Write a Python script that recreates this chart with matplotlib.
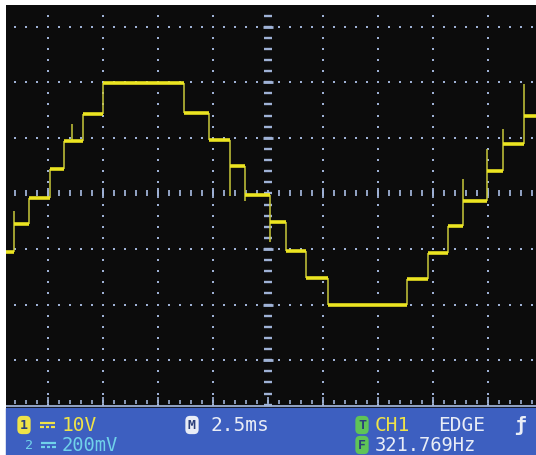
import matplotlib
matplotlib.use("Agg")
import matplotlib.pyplot as plt
import numpy as np
from matplotlib.patches import Rectangle
from matplotlib.lines import Line2D

# ---------------- data (read from the scope screen) ----------------
# time in ms (2.5 ms/div), voltage in V (10 V/div)
step_edges_ms = [-11.91, -11.55, -10.86, -9.91, -9.27, -8.41, -7.50, -3.82,
                 -2.68, -1.73, -1.05, 0.09, 0.82, 1.73, 2.73, 6.32, 7.27,
                 8.18, 8.86, 9.95, 10.68, 11.64, 12.18]
step_levels_v = [-10.5, -5.5, -0.8, 4.4, 9.4, 14.3, 19.9, 14.5, 9.6, 4.9,
                 -0.3, -5.1, -10.3, -15.2, -20.1, -15.4, -10.7, -5.8, -1.3,
                 4.0, 8.9, 13.9]
spike_times_ms = [-11.55, -8.91, -1.73, -1.05, 0.09, 8.86, 9.95, 10.68, 11.64]
spike_peak_v = [-3.1, 12.5, -0.45, -1.3, -8.7, 2.6, 8.0, 11.6, 19.7]

ms_per_div = 2.5
v_per_div = 10.0

status_line1 = ["10V", "2.5ms", "CH1", "EDGE"]
status_line2 = ["200mV", "321.769Hz"]

# ---------------- figure ----------------
W, H = 536, 456
fig = plt.figure(figsize=(W / 100, H / 100), dpi=100, facecolor="white")

screen_bg = "#0c0c0c"
grid_col = "#9fb2d6"
trace_col = "#ece521"
edge_col = "#c9c83a"
bar_col = "#3d5fc0"

ax = fig.add_axes([6 / W, 1 - 409 / H, 530 / W, 403 / H])
ax.set_facecolor(screen_bg)
xmin, xmax = -11.91, 12.18
ymin, ymax = -38.6, 33.9
ax.set_xlim(xmin, xmax)
ax.set_ylim(ymin, ymax)
for s in ax.spines.values():
    s.set_visible(False)
ax.set_xticks([])
ax.set_yticks([])

# ---- graticule ----
major_t = [k * ms_per_div for k in range(-4, 5) if k != 0]
major_v = [k * v_per_div for k in range(-3, 4) if k != 0]
fine_t = np.arange(-11.5, 12.01, ms_per_div / 5)
fine_v = np.arange(-38.0, 33.9, v_per_div / 5)

# dots along vertical grid lines
tt, vv = np.meshgrid(major_t, fine_v)
ax.scatter(tt.ravel(), vv.ravel(), s=3.2, marker="s", color=grid_col,
           linewidths=0, zorder=2)
# dots along horizontal grid lines
tt, vv = np.meshgrid(fine_t, major_v)
ax.scatter(tt.ravel(), vv.ravel(), s=3.2, marker="s", color=grid_col,
           linewidths=0, zorder=2)
# centre horizontal axis: short vertical dashes
ax.scatter(fine_t, np.zeros_like(fine_t), s=20, marker="|", color=grid_col,
           linewidths=1.3, zorder=2)
ax.scatter(major_t, np.zeros(len(major_t)), s=45, marker="|", color=grid_col,
           linewidths=1.3, zorder=2)
# centre vertical axis: short horizontal dashes
ax.scatter(np.zeros_like(fine_v), fine_v, s=26, marker="_", color=grid_col,
           linewidths=1.7, zorder=2)
ax.scatter(np.zeros(len(major_v)), major_v, s=60, marker="_", color=grid_col,
           linewidths=2.0, zorder=2)
# bottom border with ticks
ax.axhline(ymin + 0.35, color=grid_col, lw=1.3, zorder=2)
ax.scatter(fine_t, np.full_like(fine_t, ymin + 1.0), s=10, marker="|",
           color=grid_col, linewidths=1.2, zorder=2)
ax.scatter(major_t + [0.0], np.full(len(major_t) + 1, ymin + 1.4), s=22,
           marker="|", color=grid_col, linewidths=1.2, zorder=2)

# ---- trace ----
edges = np.array(step_edges_ms)
levels = np.array(step_levels_v)
ax.hlines(levels, edges[:-1], edges[1:], color=trace_col, lw=2.6, zorder=4)
ax.vlines(edges[1:-1], levels[:-1], levels[1:], color=edge_col, lw=1.1,
          zorder=3)
spike_t = np.array(spike_times_ms)
base_idx = np.searchsorted(edges, spike_t, side="right") - 1
spike_base = levels[base_idx]
ax.vlines(spike_t, spike_base, spike_peak_v, color=edge_col, lw=1.1, zorder=3)

# ---------------- status bar ----------------
fig.patches.append(Rectangle((6 / W, 0), 530 / W, 47 / H,
                             transform=fig.transFigure, color=bar_col,
                             zorder=0))

mono = ["DejaVu Sans Mono", "DejaVu Sans"]
yellow = "#efe348"
cyan = "#70d2ea"
white = "#e9edf6"
green = "#5fc457"

y1p, y2p = 426, 446
y1 = 1 - y1p / H
y2 = 1 - y2p / H


def px(x):
    return x / W


def py(y):
    return 1 - y / H


def badge(x, y, ch, fc):
    fig.text(px(x), y, ch, fontsize=9.5, fontweight="bold", color="#2b3f7a",
             ha="center", va="center", family=mono,
             bbox=dict(boxstyle="round,pad=0.2,rounding_size=0.35", fc=fc,
                       ec="none"))


def dc_symbol(x0, yc, color):
    # the DC sign (solid bar over a dashed bar); no installed font has U+2393
    fig.add_artist(Line2D([px(x0), px(x0 + 15)], [py(yc - 2), py(yc - 2)],
                          transform=fig.transFigure, color=color, lw=1.6,
                          solid_capstyle="butt"))
    for k in range(3):
        xs = x0 + k * 5.5
        fig.add_artist(Line2D([px(xs), px(xs + 3.5)], [py(yc + 2), py(yc + 2)],
                              transform=fig.transFigure, color=color, lw=1.6,
                              solid_capstyle="butt"))


fs = 14
# line 1
badge(24, y1, "1", yellow)
dc_symbol(40, y1p, yellow)
fig.text(px(62), y1, status_line1[0], fontsize=fs, color=yellow, ha="left",
         va="center", family=mono)
badge(192, y1, "M", white)
fig.text(px(211), y1, status_line1[1], fontsize=fs, color=white, ha="left",
         va="center", family=mono)
badge(362, y1, "T", green)
fig.text(px(375), y1, status_line1[2], fontsize=fs, color=yellow, ha="left",
         va="center", family=mono)
fig.text(px(438), y1, status_line1[3], fontsize=fs, color=white, ha="left",
         va="center", family=mono)
fig.text(px(514), y1, "\u0192", fontsize=fs, color=white, ha="left",
         va="center", family=mono, fontweight="bold")

# line 2
fig.text(px(29), y2, "2", fontsize=9.5, color=cyan, ha="center",
         va="center", family=mono)
dc_symbol(41, y2p, cyan)
fig.text(px(62), y2, status_line2[0], fontsize=13.5, color=cyan, ha="left",
         va="center", family=mono)
badge(362, y2, "F", green)
fig.text(px(375), y2, status_line2[1], fontsize=13.5, color=white, ha="left",
         va="center", family=mono)

fig.savefig("out.png", dpi=100, facecolor="white")
